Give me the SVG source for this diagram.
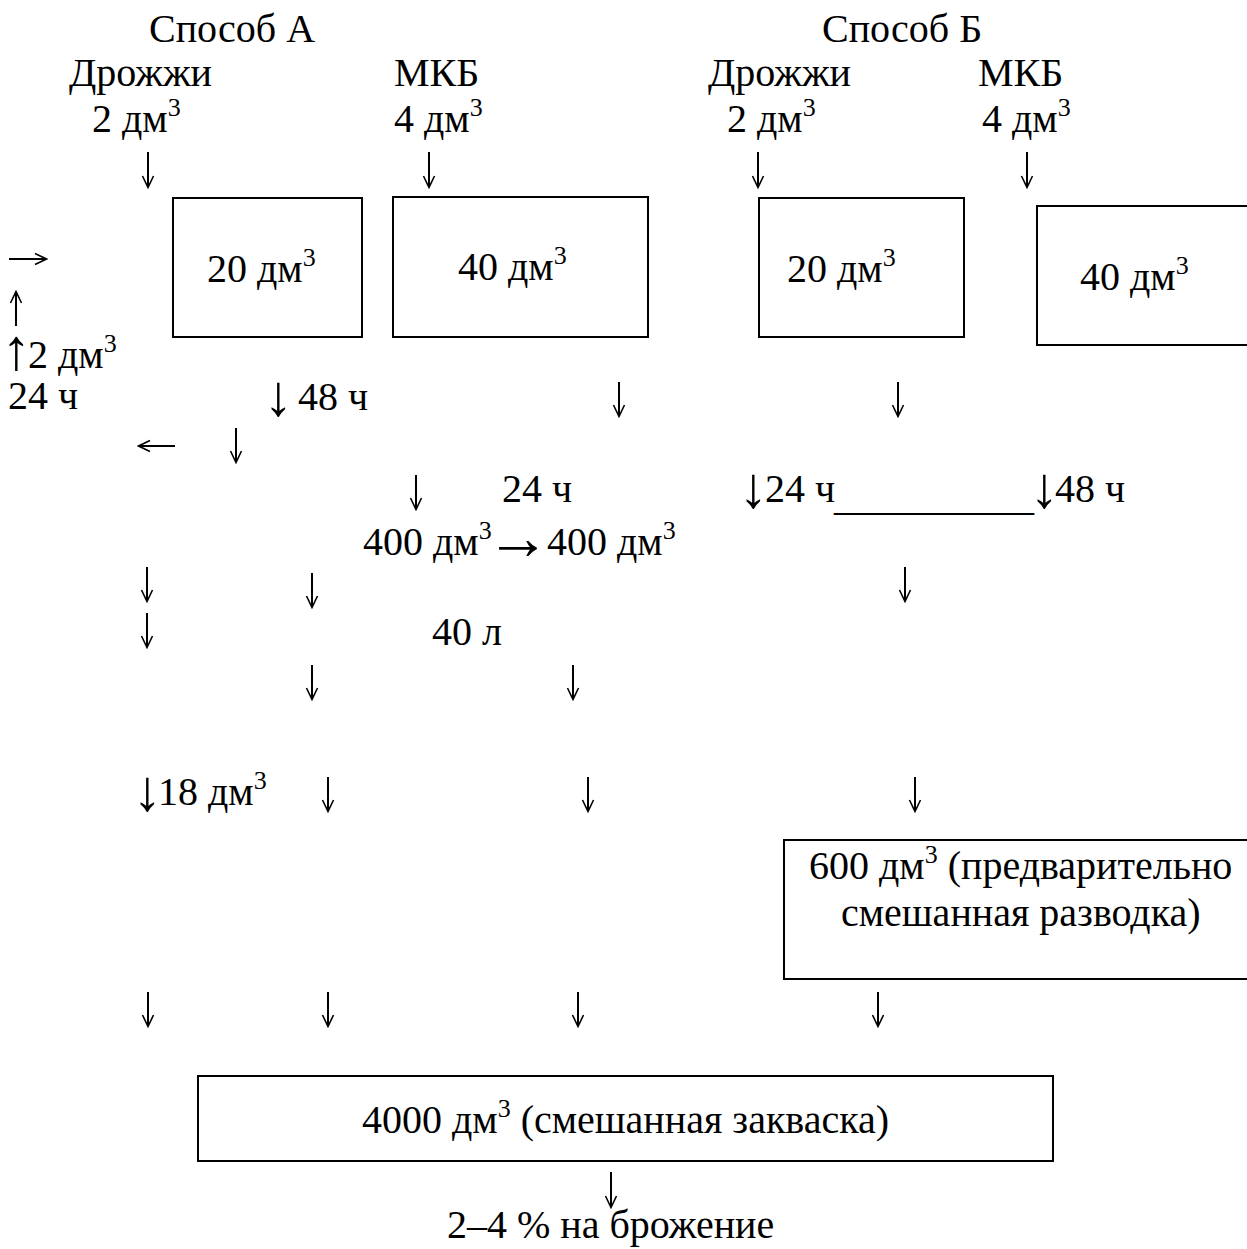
<svg xmlns="http://www.w3.org/2000/svg" width="1247" height="1249" viewBox="0 0 1247 1249">
<style>
text{font-family:"Liberation Serif","Times New Roman",serif;font-size:40px;fill:#000}
.sup{font-size:26px}
.ar{font-size:58px}
.box{fill:#fff;stroke:#000;stroke-width:2}
.arr{stroke:#000;stroke-width:2;fill:none}
</style>
<defs>
<marker id="ah" viewBox="0 0 14 14" refX="12" refY="7" markerWidth="14" markerHeight="14" markerUnits="userSpaceOnUse" orient="auto">
<path d="M1,1.5 L12.5,7 L1,12.5" fill="none" stroke="#000" stroke-width="1.6"/>
</marker>
</defs>
<rect width="1247" height="1249" fill="#fff"/>

<g id="headers">
<text x="149" y="42">Способ А</text>
<text x="822" y="42">Способ Б</text>
</g>

<g id="inputs">
<text x="69" y="86">Дрожжи</text>
<text x="394" y="86">МКБ</text>
<text x="708" y="86">Дрожжи</text>
<text x="978" y="86">МКБ</text>
<text x="92" y="132">2 дм<tspan class="sup" dy="-16">3</tspan></text>
<text x="394" y="132">4 дм<tspan class="sup" dy="-16">3</tspan></text>
<text x="727" y="132">2 дм<tspan class="sup" dy="-16">3</tspan></text>
<text x="982" y="132">4 дм<tspan class="sup" dy="-16">3</tspan></text>
</g>

<g id="box-a-yeast">
<rect class="box" x="173" y="198" width="189" height="139"/>
<text x="207" y="282">20 дм<tspan class="sup" dy="-16">3</tspan></text>
</g>
<g id="box-a-mkb">
<rect class="box" x="393" y="197" width="255" height="140"/>
<text x="458" y="280">40 дм<tspan class="sup" dy="-16">3</tspan></text>
</g>
<g id="box-b-yeast">
<rect class="box" x="759" y="198" width="205" height="139"/>
<text x="787" y="282">20 дм<tspan class="sup" dy="-16">3</tspan></text>
</g>
<g id="box-b-mkb">
<rect class="box" x="1037" y="206" width="220" height="139"/>
<text x="1080" y="290">40 дм<tspan class="sup" dy="-16">3</tspan></text>
</g>

<g id="labels">
<text y="368"><tspan class="ar" x="2" dy="1">↑</tspan><tspan x="28" dy="-1">2 дм</tspan><tspan class="sup" dy="-16">3</tspan></text>
<text x="8" y="409">24 ч</text>
<text y="410"><tspan class="ar" x="264" dy="5">↓</tspan><tspan x="298" dy="-5">48 ч</tspan></text>
<text x="502" y="502">24 ч</text>
<text y="502"><tspan class="ar" x="739" dy="5">↓</tspan><tspan x="765" dy="-5">24 ч</tspan><tspan x="834" dy="8">__________</tspan><tspan class="ar" x="1030" dy="-3">↓</tspan><tspan x="1055" dy="-5">48 ч</tspan></text>
<text y="555"><tspan x="363">400 дм</tspan><tspan class="sup" dy="-16">3</tspan><tspan x="486" dy="20" font-size="64">→</tspan><tspan x="547" dy="-4">400 дм</tspan><tspan class="sup" dy="-16">3</tspan></text>
<text x="432" y="645">40 л</text>
<text y="805"><tspan class="ar" x="133" dy="5">↓</tspan><tspan x="158" dy="-5">18 дм</tspan><tspan class="sup" dy="-16">3</tspan></text>
<text x="447" y="1238">2–4 % на брожение</text>
</g>

<g id="box-b-mixed">
<rect class="box" x="784" y="840" width="470" height="139"/>
<text x="809" y="879">600 дм<tspan class="sup" dy="-16">3</tspan><tspan dy="16"> (предварительно</tspan></text>
<text x="841" y="926">смешанная разводка)</text>
</g>

<g id="box-final">
<rect class="box" x="198" y="1076" width="855" height="85"/>
<text x="362" y="1133">4000 дм<tspan class="sup" dy="-16">3</tspan><tspan dy="16"> (смешанная закваска)</tspan></text>
</g>

<g id="connectors" class="arr" marker-end="url(#ah)">
<line x1="148" y1="152" x2="148" y2="187"/>
<line x1="429" y1="152" x2="429" y2="187"/>
<line x1="758" y1="152" x2="758" y2="187"/>
<line x1="1027" y1="152" x2="1027" y2="187"/>
<line x1="9" y1="259" x2="46" y2="259"/>
<line x1="16" y1="326" x2="16" y2="292"/>
<line x1="619" y1="382" x2="619" y2="416"/>
<line x1="898" y1="382" x2="898" y2="416"/>
<line x1="175" y1="446" x2="139" y2="446"/>
<line x1="236" y1="428" x2="236" y2="462"/>
<line x1="416" y1="475" x2="416" y2="509"/>
<line x1="147" y1="567" x2="147" y2="601"/>
<line x1="312" y1="573" x2="312" y2="607"/>
<line x1="905" y1="567" x2="905" y2="601"/>
<line x1="147" y1="613" x2="147" y2="647"/>
<line x1="312" y1="665" x2="312" y2="699"/>
<line x1="573" y1="665" x2="573" y2="699"/>
<line x1="328" y1="777" x2="328" y2="811"/>
<line x1="588" y1="777" x2="588" y2="811"/>
<line x1="915" y1="777" x2="915" y2="811"/>
<line x1="148" y1="992" x2="148" y2="1026"/>
<line x1="328" y1="992" x2="328" y2="1026"/>
<line x1="578" y1="992" x2="578" y2="1026"/>
<line x1="878" y1="992" x2="878" y2="1026"/>
<line x1="611" y1="1172" x2="611" y2="1207"/>
</g>
</svg>
